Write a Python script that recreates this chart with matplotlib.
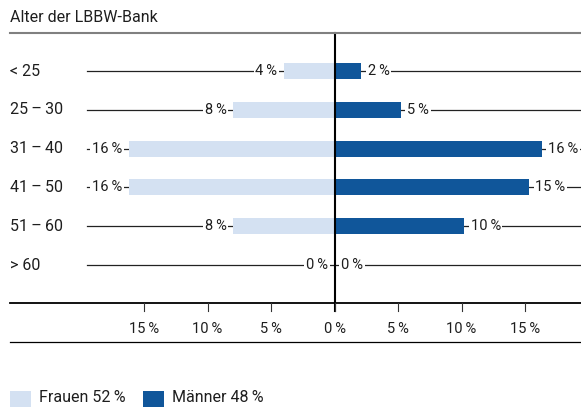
import matplotlib

matplotlib.use("Agg")

import matplotlib.pyplot as plt
from matplotlib.patches import Rectangle

W, H = 581, 407
SP = "\u200a\u200a"  # narrow gap between number and %

age_groups = ["< 25", f"25{SP}\u2013{SP}30", f"31{SP}\u2013{SP}40", f"41{SP}\u2013{SP}50", f"51{SP}\u2013{SP}60", "> 60"]
women = [4.0, 8.0, 16.2, 16.2, 8.0, 0.0]
men = [2.1, 5.2, 16.3, 15.3, 10.2, 0.0]
women_labels = ["4", "8", "16", "16", "8", "0"]
men_labels = ["2", "5", "16", "15", "10", "0"]
tick_values = [-15, -10, -5, 0, 5, 10, 15]
legend_labels = [f"Frauen 52{SP}%", f"Männer 48{SP}%"]

WOMEN_COLOR = "#d4e1f2"
MEN_COLOR = "#10569a"
TEXT_COLOR = "#1e1e1e"
FS = 10.5
FS_LABEL = 11.5

plt.rcParams["font.family"] = ["Roboto", "DejaVu Sans"]

fig = plt.figure(figsize=(W / 100, H / 100), dpi=100)


def fx(px):
    return px / W


def fy(py):
    return 1 - py / H


# axes spans pixels x 10..581, y 33..303
center_px = 334.5
px_per_pct = 12.7
row0_px, row_step = 71, 38.8
ax = fig.add_axes([fx(10), fy(303), fx(581) - fx(10), fy(33) - fy(303)])
ax.set_xlim((10 - center_px) / px_per_pct, (581 - center_px) / px_per_pct)
ax.set_ylim((303 - row0_px) / row_step, (33 - row0_px) / row_step)
ax.set_axis_off()

line_start = (87 - center_px) / px_per_pct
xmax = ax.get_xlim()[1]
gap = 6.5 / px_per_pct
bar_h = 16 / row_step
bbox = dict(facecolor="white", edgecolor="none", pad=1.2)

for i, (w, m) in enumerate(zip(women, men)):
    ax.plot([line_start, xmax], [i, i], color="#222222", lw=0.9, zorder=1)
    ax.barh(i, -w, height=bar_h, color=WOMEN_COLOR, zorder=2)
    ax.barh(i, m, height=bar_h, color=MEN_COLOR, zorder=2)
    ax.text(-w - gap, i, f"{women_labels[i]}{SP}%", ha="right", va="center",
            fontsize=FS, color=TEXT_COLOR, bbox=bbox, zorder=3)
    ax.text(m + gap, i, f"{men_labels[i]}{SP}%", ha="left", va="center",
            fontsize=FS, color=TEXT_COLOR, bbox=bbox, zorder=3)

# center line and horizontal rules
ax.plot([0, 0], [ax.get_ylim()[1], ax.get_ylim()[0] + 8 / row_step], color="black",
        lw=1.5, zorder=4, clip_on=False)
fig.add_artist(plt.Line2D([fx(10), fx(581)], [fy(32.5), fy(32.5)], color="#808080", lw=1.5))
fig.add_artist(plt.Line2D([fx(10), fx(581)], [fy(303), fy(303)], color="black", lw=1.3))
fig.add_artist(plt.Line2D([fx(10), fx(581)], [fy(342), fy(342)], color="black", lw=0.9))

for t in tick_values:
    xpx = center_px + t * px_per_pct
    fig.add_artist(plt.Line2D([fx(xpx), fx(xpx)], [fy(303), fy(311)], color="#333333", lw=0.8))
    fig.text(fx(xpx), fy(329), f"{abs(t)}{SP}%", ha="center", va="center",
             fontsize=FS, color=TEXT_COLOR)

fig.text(fx(10), fy(17), "Alter der LBBW-Bank", ha="left", va="center",
         fontsize=FS_LABEL, color=TEXT_COLOR)
for i, label in enumerate(age_groups):
    fig.text(fx(10), fy(row0_px + i * row_step), label, ha="left", va="center",
             fontsize=FS_LABEL, color=TEXT_COLOR)

# legend
for x0, color, label in [(10, WOMEN_COLOR, legend_labels[0]), (143, MEN_COLOR, legend_labels[1])]:
    fig.add_artist(Rectangle((fx(x0), fy(407)), fx(21), fy(391) - fy(407),
                             transform=fig.transFigure, color=color, lw=0))
    fig.text(fx(x0 + 29), fy(398), label, ha="left", va="center",
             fontsize=FS_LABEL, color=TEXT_COLOR)

fig.savefig("out.png", dpi=100)
